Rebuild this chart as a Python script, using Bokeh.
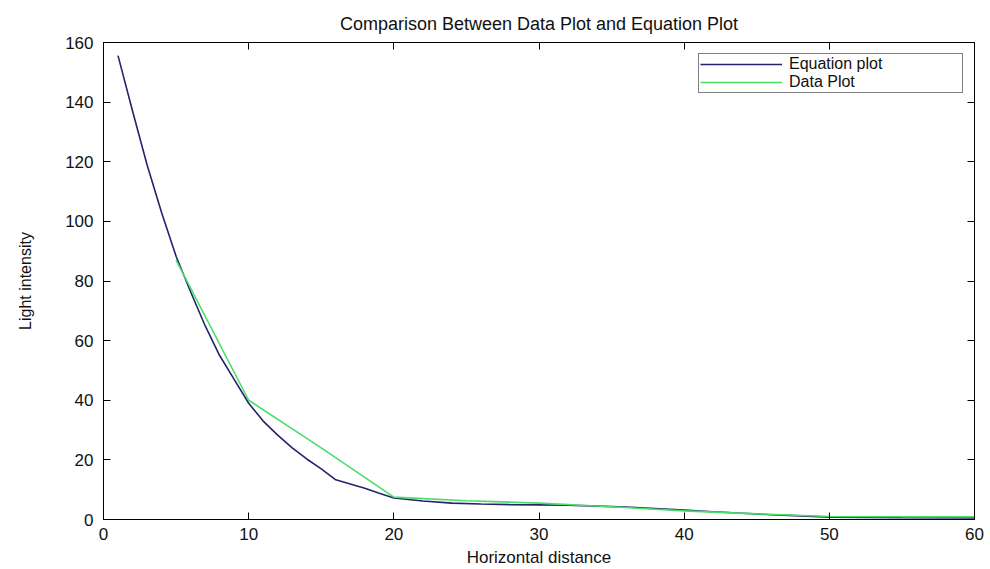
from bokeh.plotting import figure
from bokeh.models import LinearAxis, SingleIntervalTicker, Range1d, Legend, LegendItem, CustomJSTickFormatter
from bokeh.embed import file_html
from bokeh.resources import INLINE

# Equation plot
eq_x = [1, 2, 3, 4, 5, 6, 7, 8, 9, 10, 11, 12, 13, 14, 15, 16, 17, 18, 19, 20,
        22, 24, 26, 28, 30, 32, 34, 36, 38, 40, 42, 44, 46, 48, 50, 55, 60]
eq_y = [155.6, 137, 119, 103, 88.3, 76.4, 65, 55, 47, 39, 33, 28.3, 24, 20.3, 17, 13.3, 11.9, 10.5, 8.8, 7.2,
        6.2, 5.5, 5.2, 5.0, 4.9, 4.8, 4.5, 4.2, 3.7, 3.2, 2.6, 2.1, 1.6, 1.2, 0.8, 0.6, 0.5]

# Data plot
data_x = [5, 10, 15, 20, 25, 30, 35, 40, 45, 50, 55, 60]
data_y = [87, 40, 24, 7.5, 6.3, 5.5, 4.3, 2.9, 1.9, 1.0, 0.9, 0.9]

x_ticks_step = 10
y_ticks_step = 20

FONT = "Liberation Sans"

p = figure(width=990, height=569, output_backend="svg", toolbar_location=None,
           x_range=Range1d(0, 60), y_range=Range1d(0, 160),
           min_border_left=103, min_border_right=16, min_border_top=42, min_border_bottom=50,
           background_fill_color="white", border_fill_color="white")

p.title.text = "Comparison Between Data Plot and Equation Plot"
p.title.align = "center"
p.title.text_font = FONT
p.title.text_font_size = "18px"
p.title.text_font_style = "normal"
p.title.text_color = "#111111"

p.grid.visible = False
p.outline_line_color = "black"
p.outline_line_width = 1

for ax in (p.xaxis[0], p.yaxis[0]):
    ax.major_tick_in = 7
    ax.major_tick_out = 0
    ax.minor_tick_line_color = None
    ax.axis_line_color = "black"
    ax.major_tick_line_color = "black"
    ax.major_label_text_font = FONT
    ax.major_label_text_font_size = "17px"
    ax.major_label_text_color = "#111111"

p.xaxis[0].ticker = SingleIntervalTicker(interval=x_ticks_step)
p.yaxis[0].ticker = SingleIntervalTicker(interval=y_ticks_step)
p.xaxis[0].axis_label = "Horizontal distance"
p.xaxis[0].axis_label_text_font = FONT
p.xaxis[0].axis_label_text_font_size = "17px"
p.xaxis[0].axis_label_text_font_style = "normal"
p.xaxis[0].axis_label_text_color = "#111111"
p.xaxis[0].axis_label_standoff = 5
p.xaxis[0].major_label_standoff = 4
p.yaxis[0].axis_label = "Light intensity"
p.yaxis[0].axis_label_text_font = FONT
p.yaxis[0].axis_label_text_font_size = "16px"
p.yaxis[0].axis_label_text_font_style = "normal"
p.yaxis[0].axis_label_text_color = "#111111"
p.yaxis[0].axis_label_standoff = 28
p.yaxis[0].major_label_standoff = 6

blank = CustomJSTickFormatter(code="return ''")
top_ax = LinearAxis(ticker=SingleIntervalTicker(interval=x_ticks_step), formatter=blank,
                    major_tick_in=7, major_tick_out=0, minor_tick_line_color=None,
                    major_label_standoff=0)
right_ax = LinearAxis(ticker=SingleIntervalTicker(interval=y_ticks_step), formatter=blank,
                      major_tick_in=7, major_tick_out=0, minor_tick_line_color=None,
                      major_label_standoff=0)
p.add_layout(top_ax, "above")
p.add_layout(right_ax, "right")

r_eq = p.line(eq_x, eq_y, line_color="#23236e", line_width=1.6)
r_data = p.line(data_x, data_y, line_color="#4ade66", line_width=1.6)

legend = Legend(items=[LegendItem(label="Equation plot", renderers=[r_eq]),
                       LegendItem(label="Data Plot", renderers=[r_data])],
                location="top_right", margin=11, padding=1, spacing=-3,
                glyph_width=82, glyph_height=12, label_height=12, label_width=172,
                label_standoff=7, label_text_font=FONT, label_text_font_size="16px",
                label_text_color="#111111",
                border_line_color="black", border_line_width=1,
                background_fill_alpha=1)
p.add_layout(legend, "center")

open("out.html", "w").write(file_html(p, INLINE))
